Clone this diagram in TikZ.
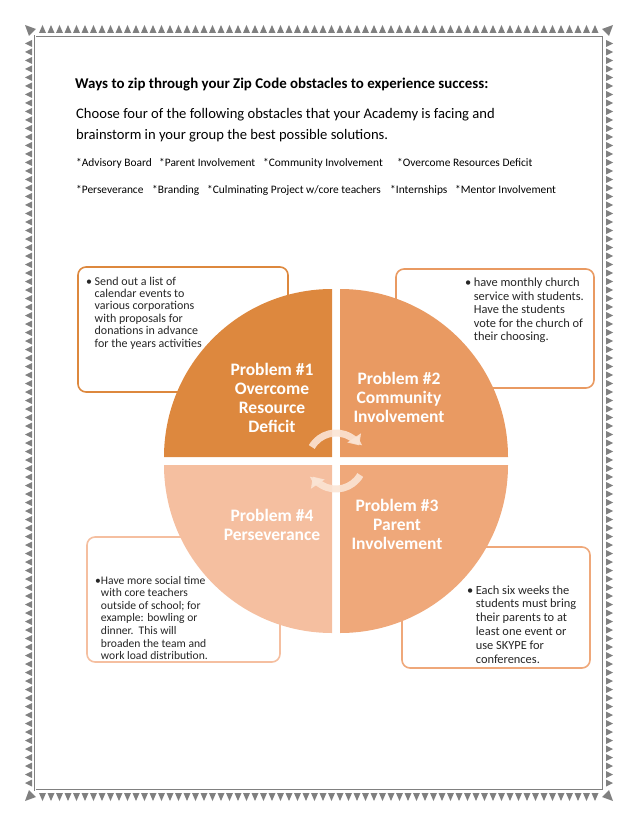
\documentclass[tikz,border=0pt]{standalone}
\usepackage{fontspec}
\setmainfont{Carlito}
\usetikzlibrary{arrows.meta}
\definecolor{pone}{RGB}{221,136,62}
\definecolor{ptwo}{RGB}{233,154,98}
\definecolor{pthree}{RGB}{239,168,122}
\definecolor{pfour}{RGB}{245,191,160}
\definecolor{rim}{RGB}{128,128,128}
\definecolor{swirl}{RGB}{251,228,212}
\tikzset{
  notebox/.style={draw, rounded corners=8pt, line width=1.6pt, fill=white, inner sep=0pt},
  notetext/.style={anchor=base west, inner sep=0pt, text=black!85},
  problem/.style={text=white, font=\bfseries\fontsize{17.5}{19}\selectfont, align=center, inner sep=0pt},
  topic/.style={anchor=base west, inner sep=0pt, font=\fontsize{11.4}{13}\selectfont},
  tooth/.style={fill=rim},
  swirlarrow/.style={draw=swirl, opacity=0.9, line width=7pt, -{Triangle[width=16pt,length=9pt]}}
}
\begin{document}
\begin{tikzpicture}[x=1pt,y=1pt]
      \useasboundingbox (0,0) rectangle (638,-826);
      \draw[rim, line width=0.8pt, double=white, double distance=1pt] (35,-36) rectangle (603,-790);
      \foreach \i in {0,...,65} {
        \fill[tooth] ({39+8.5*\i},-33) -- ({46+8.5*\i},-33) -- ({42.5+8.5*\i},-25) -- cycle;
        \fill[tooth] ({39+8.5*\i},-793) -- ({46+8.5*\i},-793) -- ({42.5+8.5*\i},-801) -- cycle;
      }
      \foreach \i in {0,...,87} {
        \fill[tooth] (32,{-40-8.5*\i}) -- (32,{-47-8.5*\i}) -- (25,{-43.5-8.5*\i}) -- cycle;
        \fill[tooth] (606,{-40-8.5*\i}) -- (606,{-47-8.5*\i}) -- (613,{-43.5-8.5*\i}) -- cycle;
      }
      \fill[tooth] (25,-25) -- (36,-29) -- (29,-36) -- cycle;
      \fill[tooth] (613,-25) -- (602,-29) -- (609,-36) -- cycle;
      \fill[tooth] (25,-801) -- (36,-797) -- (29,-790) -- cycle;
      \fill[tooth] (613,-801) -- (602,-797) -- (609,-790) -- cycle;

      \node[anchor=base west, inner sep=0pt, font=\bfseries\fontsize{14.9}{17}\selectfont] (title) at (75,-89)
        {Ways to zip through your Zip Code obstacles to experience success:};
      \node[anchor=base west, inner sep=0pt, font=\fontsize{14.6}{17}\selectfont] (ask1) at (76,-119)
        {Choose four of the following obstacles that your Academy is facing and};
      \node[anchor=base west, inner sep=0pt, font=\fontsize{14.6}{17}\selectfont] (ask2) at (76,-140)
        {brainstorm in your group the best possible solutions.};
      \node[topic] (advisory) at (76,-167) {*Advisory Board};
      \node[topic] (parent) at (159,-167) {*Parent Involvement};
      \node[topic] (community) at (263,-167) {*Community Involvement};
      \node[topic] (resources) at (397,-167) {*Overcome Resources Deficit};
      \node[topic] (persev) at (76,-194) {*Perseverance};
      \node[topic] (branding) at (152,-194) {*Branding};
      \node[topic] (culminating) at (207,-194) {*Culminating Project w/core teachers};
      \node[topic] (intern) at (390,-194) {*Internships};
      \node[topic] (mentor) at (455,-194) {*Mentor Involvement};

      \node[notebox, draw=pone, minimum width=210, minimum height=125] (box1) at (183,-329.5) {};
      \node[notebox, draw=ptwo, minimum width=198, minimum height=119] (box2) at (495,-328.5) {};
      \node[notebox, draw=pfour, minimum width=193, minimum height=125] (box3) at (183.5,-599.5) {};
      \node[notebox, draw=pthree, minimum width=188, minimum height=121] (box4) at (496,-607.5) {};

      \node[notetext, font=\fontsize{12}{12.4}\selectfont] (note1) at (86,-285)
        {\begin{tabular}[t]{@{}l@{\hspace{2.5pt}}l@{}}
          \textbullet & Send out a list of\\ & calendar events to\\ & various corporations\\
          & with proposals for\\ & donations in advance\\ & for the years activities
        \end{tabular}};
      \node[notetext, font=\fontsize{12.4}{13.6}\selectfont] (note2) at (465,-286.5)
        {\begin{tabular}[t]{@{}l@{\hspace{2.5pt}}l@{}}
          \textbullet & have monthly church\\ & service with students.\\ & Have the students\\
          & vote for the church of\\ & their choosing.
        \end{tabular}};
      \node[notetext, font=\fontsize{11.6}{12.6}\selectfont] (note3) at (95,-584)
        {\begin{tabular}[t]{@{}l@{}l@{}}
          \textbullet & Have more social time\\ & with core teachers\\ & outside of school; for\\
          & example: bowling or\\ & dinner.\ \ This will\\ & broaden the team and\\ & work load distribution.
        \end{tabular}};
      \node[notetext, font=\fontsize{12.4}{13.8}\selectfont] (note4) at (467,-594)
        {\begin{tabular}[t]{@{}l@{\hspace{2.5pt}}l@{}}
          \textbullet & Each six weeks the\\ & students must bring\\ & their parents to at\\
          & least one event or\\ & use SKYPE for\\ & conferences.
        \end{tabular}};

      \fill[pone] (332,-457) -- ++(180:168pt) arc[start angle=180, end angle=90, radius=168pt] -- cycle;
      \fill[ptwo] (340,-457) -- ++(90:168pt) arc[start angle=90, end angle=0, radius=168pt] -- cycle;
      \fill[pthree] (340,-465) -- ++(0:168pt) arc[start angle=0, end angle=-90, radius=168pt] -- cycle;
      \fill[pfour] (332,-465) -- ++(-90:168pt) arc[start angle=-90, end angle=-180, radius=168pt] -- cycle;

      \node[problem] (p1) at (272,-397.5) {Problem \#1\\Overcome\\Resource\\Deficit};
      \node[problem] (p2) at (399,-397) {Problem \#2\\Community\\Involvement};
      \node[problem] (p3) at (397,-524.5) {Problem \#3\\Parent\\Involvement};
      \node[problem] (p4) at (272,-524.5) {Problem \#4\\Perseverance};

      \coordinate (hub) at (336,-461);
      \draw[swirlarrow] (hub) ++(150:28pt) arc[start angle=150, end angle=34, radius=28pt];
      \draw[swirlarrow] (hub) ++(-30:28pt) arc[start angle=-30, end angle=-146, radius=28pt];
    \end{tikzpicture}
\end{document}
